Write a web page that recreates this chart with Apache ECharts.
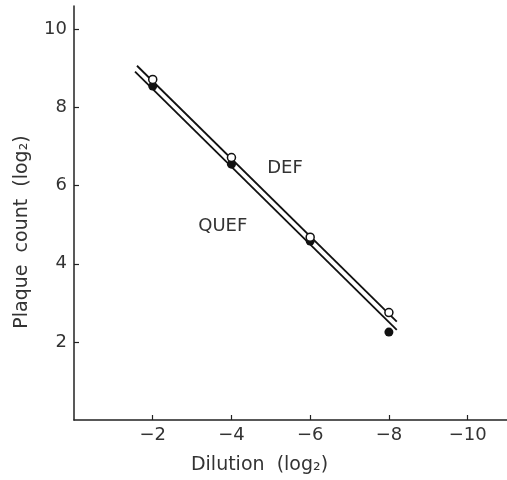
<!DOCTYPE html>
<html>
<head>
<meta charset="utf-8">
<script src="https://cdn.jsdelivr.net/npm/echarts@6/dist/echarts.min.js"></script>
<style>
  html, body { margin: 0; padding: 0; background: #fff; }
  #chart { width: 507px; height: 480px; }
</style>
</head>
<body>
<div id="chart"></div>
<script>
  // dilution (log2) and plaque counts (log2)
  var dilution = [-2, -4, -6, -8];
  var defCounts = [8.72, 6.72, 4.68, 2.75];
  var quefCounts = [8.55, 6.55, 4.58, 2.25];
  // fitted straight lines, end points
  var defFit = [[-1.6, 9.07], [-8.2, 2.52]];
  var quefFit = [[-1.55, 8.92], [-8.2, 2.31]];
  var xTicks = [-2, -4, -6, -8, -10];
  var yTicks = [2, 4, 6, 8, 10];
  var seriesLabels = [
    { name: 'DEF', x: -5.36, y: 6.45 },
    { name: 'QUEF', x: -3.78, y: 4.96 }
  ];

  var font = 'DejaVu Sans';
  var ink = '#333';

  function pairs(xs, ys) {
    return xs.map(function (x, i) { return [x, ys[i]]; });
  }

  var myChart = echarts.init(document.getElementById('chart'));

  var option = {
    backgroundColor: '#fff',
    animation: false,
    grid: { left: 74, right: 0, top: 6, bottom: 60 },
    xAxis: {
      type: 'value',
      inverse: true,
      min: -11,
      max: 0,
      name: 'Dilution  (log\u2082)',
      nameLocation: 'middle',
      nameGap: 36,
      // name sits left of the axis centre in the original
      nameTextStyle: { fontFamily: font, fontSize: 19, color: ink, padding: [0, 62, 0, 0] },
      axisLine: { onZero: false, lineStyle: { color: '#222', width: 1.5 } },
      axisTick: { inside: true, length: 5, customValues: xTicks, lineStyle: { color: '#222', width: 1.2 } },
      axisLabel: {
        customValues: xTicks,
        margin: 6,
        fontFamily: font, fontSize: 18, color: ink,
        formatter: function (v) { return String(v).replace('-', '\u2212'); }
      },
      splitLine: { show: false }
    },
    yAxis: {
      type: 'value',
      min: 0,
      max: 10.6,
      name: 'Plaque  count  (log\u2082)',
      nameLocation: 'middle',
      nameGap: 42,
      // and a bit below the middle here
      nameTextStyle: { fontFamily: font, fontSize: 19, color: ink, padding: [0, 38, 0, 0] },
      axisLine: { onZero: false, lineStyle: { color: '#222', width: 1.5 } },
      axisTick: { inside: true, length: 5, customValues: yTicks, lineStyle: { color: '#222', width: 1.2 } },
      axisLabel: {
        customValues: yTicks,
        margin: 7,
        fontFamily: font, fontSize: 18, color: ink
      },
      splitLine: { show: false }
    },
    series: [
      {
        name: 'DEF fit',
        type: 'line',
        data: defFit,
        showSymbol: false,
        lineStyle: { color: '#111', width: 1.8 },
        z: 2
      },
      {
        name: 'QUEF fit',
        type: 'line',
        data: quefFit,
        showSymbol: false,
        lineStyle: { color: '#111', width: 1.8 },
        z: 2
      },
      {
        name: 'QUEF',
        type: 'scatter',
        data: pairs(dilution, quefCounts),
        symbol: 'circle',
        symbolSize: 9,
        itemStyle: { color: '#111', opacity: 1 },
        z: 3
      },
      {
        name: 'DEF',
        type: 'scatter',
        data: pairs(dilution, defCounts),
        symbol: 'circle',
        symbolSize: 8,
        itemStyle: { color: '#fff', borderColor: '#111', borderWidth: 1.5, opacity: 1 },
        z: 4
      },
      {
        name: 'labels',
        type: 'scatter',
        symbolSize: 0,
        itemStyle: { opacity: 1 },
        data: seriesLabels.map(function (d) { return { value: [d.x, d.y], name: d.name }; }),
        label: {
          show: true,
          position: 'inside',
          formatter: '{b}',
          fontFamily: font, fontSize: 18, color: ink
        },
        silent: true
      }
    ]
  };

  myChart.setOption(option);
</script>
</body>
</html>
